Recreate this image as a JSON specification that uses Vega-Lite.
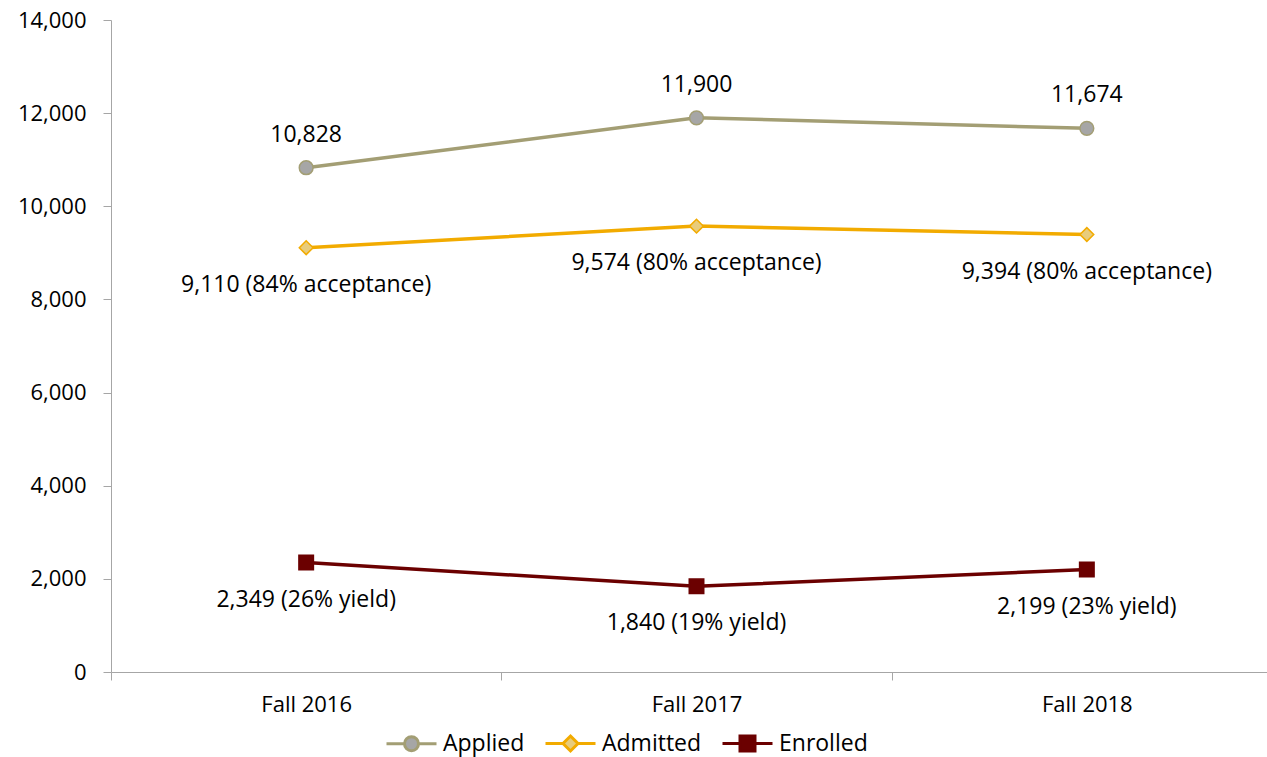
{
  "$schema": "https://vega.github.io/schema/vega-lite/v6.json",
  "autosize": "none",
  "width": 1171,
  "height": 652,
  "padding": {"left": 111, "top": 20, "right": 0, "bottom": 85},
  "background": "white",
  "config": {
    "view": {"stroke": null},
    "font": "Open Sans",
    "axis": {"labelFont": "Open Sans", "labelFontSize": 22, "labelColor": "#000000", "domainColor": "#a6a6a6", "tickColor": "#a6a6a6", "grid": false, "title": null}
  },
  "data": {
    "values": [
      {"period": "Fall 2016", "series": "Applied", "value": 10828, "label": "10,828"},
      {"period": "Fall 2017", "series": "Applied", "value": 11900, "label": "11,900"},
      {"period": "Fall 2018", "series": "Applied", "value": 11674, "label": "11,674"},
      {"period": "Fall 2016", "series": "Admitted", "value": 9110, "label": "9,110 (84% acceptance)"},
      {"period": "Fall 2017", "series": "Admitted", "value": 9574, "label": "9,574 (80% acceptance)"},
      {"period": "Fall 2018", "series": "Admitted", "value": 9394, "label": "9,394 (80% acceptance)"},
      {"period": "Fall 2016", "series": "Enrolled", "value": 2349, "label": "2,349 (26% yield)"},
      {"period": "Fall 2017", "series": "Enrolled", "value": 1840, "label": "1,840 (19% yield)"},
      {"period": "Fall 2018", "series": "Enrolled", "value": 2199, "label": "2,199 (23% yield)"}
    ]
  },
  "encoding": {
    "x": {"field": "period", "type": "nominal", "scale": {"paddingInner": 0, "paddingOuter": 0},
      "axis": {"labelAngle": 0, "tickBand": "extent", "tickSize": 8, "labelPadding": 14, "domainWidth": 1}},
    "y": {"field": "value", "type": "quantitative", "scale": {"domain": [0, 14000], "nice": false},
      "axis": {"values": [0, 2000, 4000, 6000, 8000, 10000, 12000, 14000], "format": ",.0f", "tickSize": 8, "labelPadding": 17}}
  },
  "layer": [
    {
      "mark": {"type": "line", "strokeWidth": 3.5},
      "encoding": {
        "stroke": {"field": "series", "type": "nominal",
          "scale": {"domain": ["Applied", "Admitted", "Enrolled"], "range": ["#a39e74", "#f2ab00", "#6b0000"]},
          "legend": {
            "title": null, "orient": "none", "legendX": 274, "legendY": 697, "direction": "horizontal",
            "labelFont": "Open Sans", "labelFontSize": 23, "labelColor": "#000000", "labelOffset": 5, "columnPadding": 14,
            "symbolSize": 2500, "symbolStrokeWidth": 3,
            "encode": {"symbols": {"update": {
              "shape": {"signal": "datum.value === 'Applied' ? 'M-1,0H-0.28M0.28,0H1M-0.28,0A0.28,0.28,0,1,0,0.28,0A0.28,0.28,0,1,0,-0.28,0Z' : datum.value === 'Admitted' ? 'M-1,0H-0.3M0.3,0H1M0,-0.3L0.3,0L0,0.3L-0.3,0Z' : 'M-1,0H-0.3M0.3,0H1M-0.3,-0.3H0.3V0.3H-0.3Z'"},
              "fill": {"signal": "datum.value === 'Applied' ? '#a6a6a6' : datum.value === 'Admitted' ? '#e8cc7c' : '#6b0000'"},
              "strokeWidth": {"value": 3},
              "size": {"value": 2500}
            }}}
          }}
      }
    },
    {
      "transform": [{"filter": "datum.series === 'Applied'"}],
      "mark": {"type": "point", "shape": "circle", "filled": true, "fill": "#a6a6a6", "stroke": "#a39e74", "strokeWidth": 1.5, "opacity": 1, "size": 190}
    },
    {
      "transform": [{"filter": "datum.series === 'Admitted'"}],
      "mark": {"type": "point", "shape": "diamond", "filled": true, "fill": "#e8cc7c", "stroke": "#f2ab00", "strokeWidth": 1.5, "opacity": 1, "size": 190}
    },
    {
      "transform": [{"filter": "datum.series === 'Enrolled'"}],
      "mark": {"type": "point", "shape": "square", "filled": true, "fill": "#6b0000", "stroke": "#6b0000", "strokeWidth": 1.5, "opacity": 1, "size": 210}
    },
    {
      "transform": [{"filter": "datum.series === 'Applied'"}],
      "mark": {"type": "text", "dy": -33, "fontSize": 23, "font": "Open Sans", "color": "#000000", "baseline": "middle"},
      "encoding": {"text": {"field": "label"}}
    },
    {
      "transform": [{"filter": "datum.series !== 'Applied'"}],
      "mark": {"type": "text", "dy": 37, "fontSize": 23, "font": "Open Sans", "color": "#000000", "baseline": "middle"},
      "encoding": {"text": {"field": "label"}}
    }
  ]
}
